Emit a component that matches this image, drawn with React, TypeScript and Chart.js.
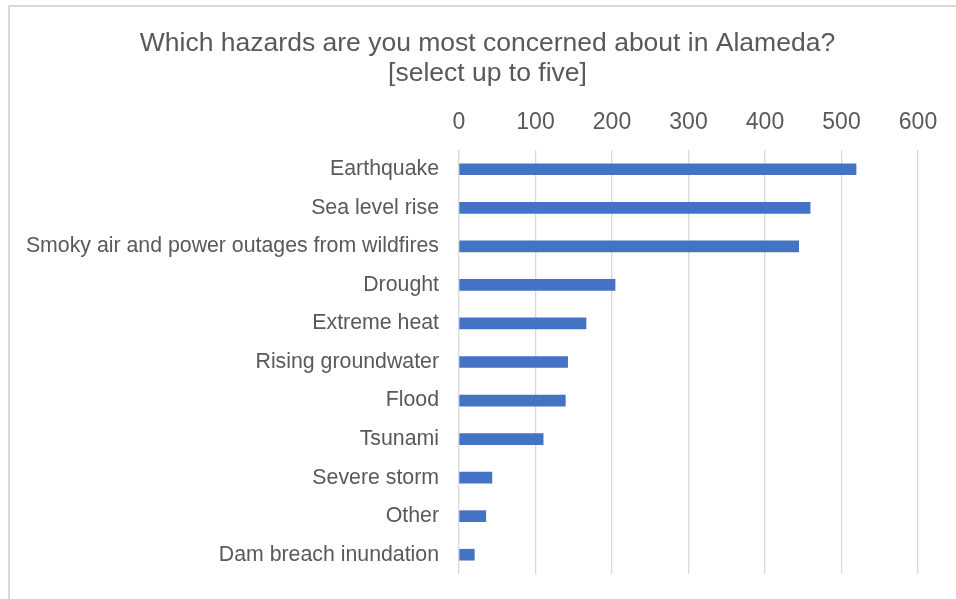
import React, { useEffect, useRef } from "react";
import { Chart, registerables } from "chart.js";

Chart.register(...registerables);

const categories = [
  "Earthquake",
  "Sea level rise",
  "Smoky air and power outages from wildfires",
  "Drought",
  "Extreme heat",
  "Rising groundwater",
  "Flood",
  "Tsunami",
  "Severe storm",
  "Other",
  "Dam breach inundation",
];
const responses = [519, 459, 444, 204, 166, 142, 139, 110, 43, 35, 20];
const titleLines = ["Which hazards are you most concerned about in Alameda?", "[select up to five]"];
const xMin = 0;
const xMax = 600;
const xStep = 100;

const FONT = "'Liberation Sans', Arial, sans-serif";
const TEXT = "#595959";

const titlePlugin = {
  id: "customTitle",
  afterDraw(chart: any) {
    const ctx = chart.ctx;
    ctx.save();
    ctx.fillStyle = TEXT;
    ctx.font = `26.5px ${FONT}`;
    ctx.textAlign = "center";
    ctx.textBaseline = "middle";
    titleLines.forEach((line, i) => {
      ctx.fillText(line, 487.5, 44 + i * 30);
    });
    ctx.restore();
  },
};

export default function App() {
  const ref = useRef<HTMLCanvasElement | null>(null);
  useEffect(() => {
    if (!ref.current) return;
    const chart = new Chart(ref.current, {
      type: "bar",
      data: {
        labels: categories,
        datasets: [
          {
            data: responses,
            backgroundColor: "#4472C4",
            borderWidth: 0,
            barThickness: 11,
          },
        ],
      },
      options: {
        indexAxis: "y",
        responsive: false,
        animation: false,
        maintainAspectRatio: false,
        layout: { padding: { top: 0, left: 0, right: 38, bottom: 25 } },
        plugins: {
          legend: { display: false },
          tooltip: { enabled: false },
          title: { display: false },
        },
        scales: {
          x: {
            position: "top",
            min: xMin,
            max: xMax,
            ticks: {
              stepSize: xStep,
              color: TEXT,
              font: { family: FONT, size: 23 },
              padding: 14,
            },
            grid: { color: "#D9D9D9", lineWidth: 1.3, drawTicks: false },
            border: { display: false },
            afterFit: (s: any) => {
              s.height = 150;
              s.paddingLeft = 0;
              s.paddingRight = 0;
            },
          },
          y: {
            ticks: {
              color: TEXT,
              font: { family: FONT, size: 21.3 },
              padding: 20,
              autoSkip: false,
            },
            grid: { display: false, drawTicks: false },
            border: { display: false },
            afterFit: (s: any) => {
              s.width = 459;
              s.paddingTop = 0;
              s.paddingBottom = 0;
            },
          },
        },
      },
      plugins: [titlePlugin],
    });
    return () => chart.destroy();
  }, []);
  return (
    <div style={{ position: "fixed", left: 0, top: 0, width: 956, height: 599, background: "#fff", overflow: "hidden" }}>
      <div
        style={{
          position: "absolute",
          left: 8,
          top: 5,
          width: 1000,
          height: 700,
          borderLeft: "2px solid #D9D9D9",
          borderTop: "2px solid #D9D9D9",
        }}
      />
      <canvas ref={ref} width={956} height={599} style={{ position: "absolute", left: 0, top: 0 }} />
    </div>
  );
}
